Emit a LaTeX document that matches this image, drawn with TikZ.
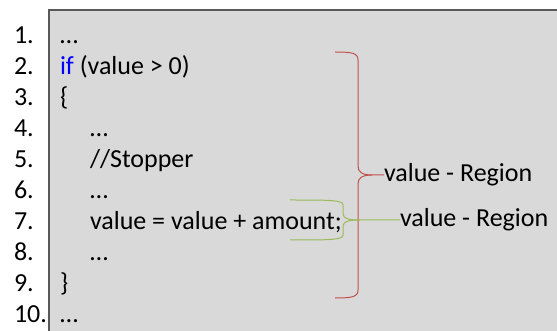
\documentclass[tikz,border=0pt]{standalone}
\usepackage{fontspec}
\setmainfont{Carlito}
\definecolor{boxgray}{HTML}{D9D9D9}
\definecolor{boxline}{HTML}{595959}
\definecolor{bred}{HTML}{C0504D}
\definecolor{bgreen}{HTML}{9BBB59}
\begin{document}
\begin{tikzpicture}[x=1pt,y=-1pt,
  txt/.style={inner sep=0pt,outer sep=0pt,anchor=base west,font=\fontsize{26}{31}\selectfont},
  brace/.style={line width=1pt}]
\useasboundingbox (0,0) rectangle (557,331);
\fill[white] (0,0) rectangle (557,331);
\fill[boxgray] (49,10) rectangle (557,331);
\draw[boxline,line width=1.6pt] (49,332) -- (49,10) -- (558,10);
% line numbers
\foreach \i in {1,...,10}{
  \node[txt] (n\i) at (14,{43.5+(\i-1)*31}) {\i.};
}
% code
\node[txt] (c1) at (60,43.5) {\dots};
\node[txt] (c2) at (60,74.5) {\textcolor{blue}{if} (value > 0)};
\node[txt] (c3) at (60,105.5) {\{};
\node[txt] (c4) at (90,136.5) {\dots};
\node[txt] (c5) at (90,167.5) {//Stopper};
\node[txt] (c6) at (90,198.5) {\dots};
\node[txt] (c7) at (90,229.5) {value = value + amount;};
\node[txt] (c8) at (90,260.5) {\dots};
\node[txt] (c9) at (60,291.5) {\}};
\node[txt] (c10) at (60,322.5) {\dots};
% labels
\node[txt,anchor=west] (l1) at (384,175) {value - Region};
\node[txt,anchor=west] (l2) at (400,220) {value - Region};
% red brace
\draw[brace,bred] (335,52) .. controls (352,52) and (358,53) .. (358,60)
  -- (358,166) .. controls (358,172) and (362,175) .. (372,175) -- (l1.west);
\draw[brace,bred] (335,298) .. controls (352,298) and (358,297) .. (358,290)
  -- (358,184) .. controls (358,178) and (362,175) .. (372,175);
% green brace
\draw[brace,bgreen] (290,200) .. controls (330,200) and (343,200) .. (343,205)
  -- (343,214) .. controls (343,219) and (350,220) .. (360,220) -- (l2.west);
\draw[brace,bgreen] (290,240) .. controls (330,240) and (343,240) .. (343,235)
  -- (343,226) .. controls (343,221) and (350,220) .. (360,220);
\end{tikzpicture}
\end{document}
